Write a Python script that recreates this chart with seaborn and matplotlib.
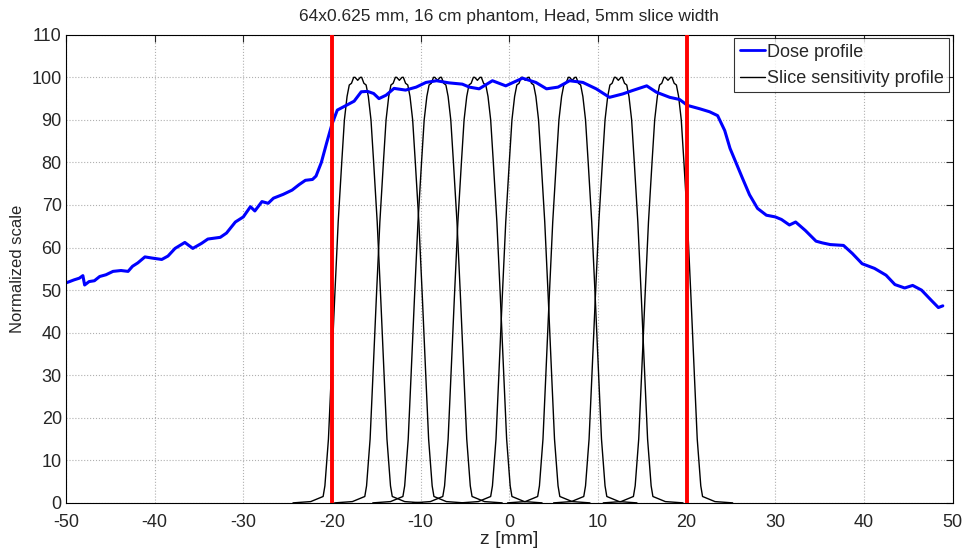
import seaborn as sns
import matplotlib.pyplot as plt
import numpy as np
import pandas as pd

# dose profile (z in mm, normalized value)
dose_z = [-50.0, -49.6, -49.1, -48.5, -48.1, -47.9, -47.4, -46.8, -46.2, -45.5,
          -44.7, -43.8, -43.0, -42.5, -41.9, -41.1, -40.2, -39.2, -38.5, -37.7,
          -36.6, -35.7, -34.7, -34.0, -32.6, -31.9, -30.9, -30.0, -29.2, -28.7,
          -27.9, -27.2, -26.6, -25.5, -24.5, -23.7, -23.0, -22.2, -21.8, -21.2,
          -20.6, -20.0, -19.4, -18.4, -17.5, -16.7, -16.0, -15.3, -14.7, -13.9,
          -13.0, -11.7, -10.5, -9.4, -8.2, -6.8, -5.3, -4.5, -3.4, -1.9,
          -0.4, 1.5, 3.0, 4.2, 5.5, 6.8, 8.3, 9.8, 11.3, 12.8,
          13.9, 15.5, 16.6, 18.1, 19.2, 20.1, 21.5, 22.6, 23.5, 24.3,
          24.9, 25.6, 26.3, 27.1, 28.0, 29.0, 30.0, 30.7, 31.6, 32.3,
          33.4, 34.6, 35.3, 36.2, 37.7, 38.7, 39.8, 41.2, 42.5, 43.5,
          44.6, 45.5, 46.5, 47.6, 48.4, 48.9]
dose_val = [51.7, 52.0, 52.4, 52.8, 53.4, 51.2, 52.0, 52.2, 53.2, 53.6,
            54.4, 54.6, 54.4, 55.6, 56.4, 57.8, 57.5, 57.2, 58.0, 59.8,
            61.2, 59.8, 61.0, 62.0, 62.4, 63.4, 66.0, 67.2, 69.6, 68.6,
            70.8, 70.4, 71.6, 72.5, 73.5, 74.8, 75.8, 76.0, 76.8, 80.0,
            84.6, 89.0, 92.3, 93.4, 94.4, 96.6, 96.7, 96.2, 95.0, 95.8,
            97.4, 97.0, 97.7, 98.8, 99.2, 98.7, 98.4, 97.7, 97.3, 99.2,
            98.0, 99.8, 98.8, 97.3, 97.7, 99.2, 98.8, 97.3, 95.3, 96.1,
            96.9, 98.0, 96.5, 95.3, 94.8, 93.4, 92.6, 91.9, 91.0, 87.5,
            83.3, 79.8, 76.3, 72.4, 69.2, 67.6, 67.2, 66.6, 65.3, 66.0,
            64.0, 61.5, 61.1, 60.7, 60.5, 58.6, 56.2, 55.1, 53.5, 51.3,
            50.5, 51.1, 50.0, 47.6, 45.9, 46.3]

# slice sensitivity profile: centres of the 8 slices and the shape around a centre
slice_centers = [-17.1, -12.4, -8.1, -3.6, 1.8, 7.1, 12.3, 17.9]
ssp_offset = [-7.3, -5.3, -3.9, -3.7, -3.3, -3.0, -2.6, -2.2, -1.8, -1.5, -1.2,
              -0.95, -0.7, -0.45, -0.3, 0.0, 0.3, 0.45, 0.7, 0.95, 1.2, 1.5,
              1.8, 2.2, 2.6, 3.0, 3.3, 3.7, 3.9, 5.3, 7.3]
ssp_value = [0.0, 0.3, 1.5, 4.0, 15.0, 29.0, 48.0, 66.0, 80.0, 90.0, 95.5,
             98.2, 98.6, 100.0, 100.0, 99.3, 100.0, 100.0, 98.6, 98.2, 95.5, 90.0,
             80.0, 66.0, 48.0, 29.0, 15.0, 4.0, 1.5, 0.3, 0.0]

coverage_edges = [-20, 20]

dose = pd.DataFrame({"z": dose_z, "val": dose_val})
rows = []
for k, c in enumerate(slice_centers):
    for o, v in zip(ssp_offset, ssp_value):
        rows.append((k, c + o, v))
ssp = pd.DataFrame(rows, columns=["slice", "z", "val"])

sns.set_style("white")
plt.rcParams["font.family"] = ["Liberation Sans", "DejaVu Sans"]
plt.rcParams["axes.unicode_minus"] = False

fig = plt.figure(figsize=(9.71, 5.52), dpi=100)
ax = fig.add_axes([0.068, 0.089, 0.913, 0.848])

sns.lineplot(data=ssp, x="z", y="val", units="slice", estimator=None, sort=False,
             color="black", linewidth=1.0, ax=ax)
sns.lineplot(data=dose, x="z", y="val", estimator=None, sort=False,
             color="#0000ff", linewidth=2.2, ax=ax)
for e in coverage_edges:
    ax.axvline(e, color="#ff0000", linewidth=2.8, zorder=5)

ax.set_xlim(-50, 50)
ax.set_ylim(0, 110)
ax.set_xticks(np.arange(-50, 51, 10))
ax.set_yticks(np.arange(0, 111, 10))
ax.grid(True, linestyle=":", color="#b0b0b0", linewidth=0.8)
ax.tick_params(direction="in", top=True, right=True, labelsize=13, length=5,
               width=0.8, pad=3)
ax.tick_params(axis="x", pad=8)
for s in ax.spines.values():
    s.set_color("black")
    s.set_linewidth(0.8)

ax.set_title("64x0.625 mm, 16 cm phantom, Head, 5mm slice width", fontsize=12.5, pad=10)
ax.set_xlabel("z [mm]", fontsize=14, labelpad=0)
ax.set_ylabel("Normalized scale", fontsize=12, labelpad=5)

handles = [plt.Line2D([], [], color="#0000ff", linewidth=2.0),
           plt.Line2D([], [], color="black", linewidth=1.0)]
leg = ax.legend(handles, ["Dose profile", "Slice sensitivity profile"], loc="upper right",
                fontsize=13, frameon=True, fancybox=False, borderpad=0.3,
                handlelength=1.4, handletextpad=0.1, borderaxespad=0.2, labelspacing=0.5)
leg.get_frame().set_edgecolor("black")
leg.get_frame().set_linewidth(0.8)

fig.savefig("out.png", dpi=100)
